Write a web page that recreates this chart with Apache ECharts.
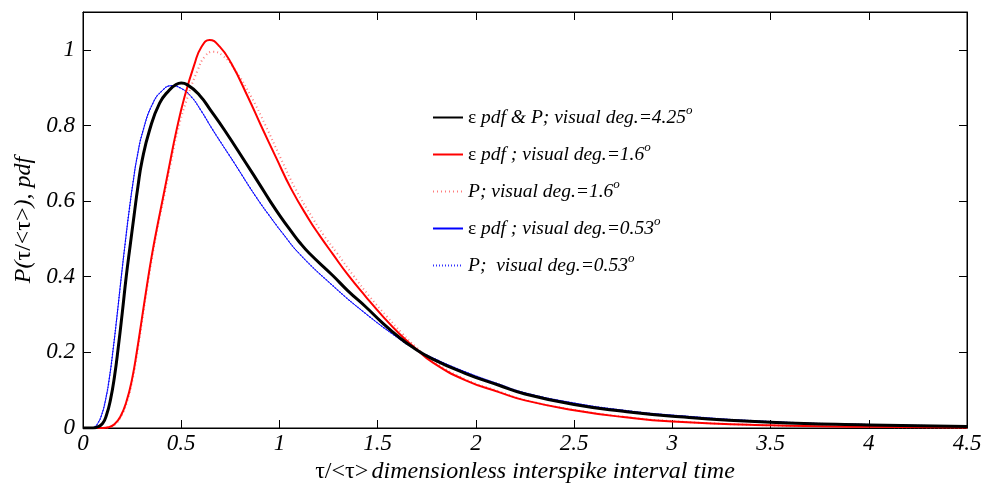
<!DOCTYPE html>
<html>
<head>
<meta charset="utf-8">
<script src="https://cdn.jsdelivr.net/npm/echarts@6/dist/echarts.min.js"></script>
<style>
html,body{margin:0;padding:0;background:#fff;}
#chart{width:997px;height:483px;}
</style>
</head>
<body>
<div id="chart"></div>
<script>
// ---- data ----
const blackX = [0, 0.05, 0.075, 0.1, 0.12, 0.14, 0.16, 0.18, 0.2, 0.22, 0.24, 0.26, 0.28, 0.3, 0.339, 0.39, 0.44, 0.47, 0.5, 0.53, 0.593, 0.65, 0.72, 0.83, 0.898, 0.95, 1.008, 1.06, 1.101, 1.152, 1.27, 1.35, 1.44, 1.52, 1.609, 1.677, 1.778, 1.948, 2.117, 2.25, 2.5, 2.75, 3.0, 3.5, 4.0, 4.5];
const blackY = [0, 0, 0.003, 0.012, 0.035, 0.075, 0.135, 0.215, 0.305, 0.4, 0.482, 0.562, 0.64, 0.705, 0.788, 0.859, 0.894, 0.907, 0.912, 0.908, 0.88, 0.84, 0.788, 0.7, 0.645, 0.602, 0.557, 0.52, 0.492, 0.462, 0.404, 0.362, 0.32, 0.28, 0.24, 0.214, 0.183, 0.144, 0.113, 0.09, 0.062, 0.044, 0.031, 0.015, 0.008, 0.004];

const redX = [0, 0.1, 0.13, 0.16, 0.19, 0.22, 0.25, 0.275, 0.3, 0.325, 0.35, 0.375, 0.407, 0.44, 0.475, 0.517, 0.568, 0.602, 0.644, 0.695, 0.754, 0.839, 0.906, 0.983, 1.059, 1.152, 1.203, 1.27, 1.35, 1.44, 1.525, 1.609, 1.685, 1.778, 1.948, 2.117, 2.25, 2.5, 2.75, 3.0, 3.5, 4.0, 4.5];
const redY = [0, 0, 0.002, 0.01, 0.03, 0.068, 0.13, 0.205, 0.29, 0.375, 0.455, 0.525, 0.608, 0.695, 0.785, 0.876, 0.963, 1.007, 1.026, 1.009, 0.965, 0.876, 0.8, 0.715, 0.633, 0.55, 0.51, 0.461, 0.404, 0.347, 0.296, 0.25, 0.214, 0.174, 0.126, 0.095, 0.073, 0.047, 0.029, 0.017, 0.007, 0.003, 0.001];

const redPX = [0, 0.1, 0.133, 0.163, 0.193, 0.223, 0.253, 0.278, 0.303, 0.328, 0.353, 0.378, 0.411, 0.445, 0.482, 0.528, 0.585, 0.62, 0.661, 0.71, 0.77, 0.856, 0.929, 1.005, 1.081, 1.175, 1.225, 1.295, 1.375, 1.46, 1.545, 1.625, 1.695, 1.785, 1.95, 2.117, 2.25, 2.5, 2.75, 3.0, 3.5, 4.0, 4.5];
const redPY = [0, 0, 0.002, 0.01, 0.03, 0.068, 0.13, 0.205, 0.29, 0.375, 0.455, 0.525, 0.608, 0.695, 0.785, 0.868, 0.948, 0.982, 0.995, 0.985, 0.95, 0.876, 0.8, 0.715, 0.633, 0.55, 0.51, 0.461, 0.404, 0.347, 0.296, 0.25, 0.214, 0.176, 0.128, 0.097, 0.074, 0.048, 0.03, 0.018, 0.007, 0.003, 0.001];

const blueX = [0, 0.04, 0.06, 0.075, 0.095, 0.115, 0.135, 0.155, 0.175, 0.195, 0.215, 0.235, 0.255, 0.275, 0.305, 0.356, 0.407, 0.449, 0.5, 0.551, 0.6, 0.661, 0.771, 0.881, 0.965, 1.016, 1.101, 1.27, 1.44, 1.609, 1.677, 1.778, 1.948, 2.117, 2.25, 2.5, 2.75, 3.0, 3.5, 4.0, 4.5];
const blueY = [0, 0, 0.003, 0.012, 0.035, 0.075, 0.135, 0.215, 0.305, 0.4, 0.49, 0.575, 0.65, 0.715, 0.785, 0.859, 0.894, 0.905, 0.898, 0.876, 0.84, 0.788, 0.7, 0.611, 0.55, 0.515, 0.461, 0.377, 0.302, 0.236, 0.213, 0.186, 0.148, 0.116, 0.093, 0.066, 0.047, 0.034, 0.017, 0.009, 0.005];

const xTicks = [0, 0.5, 1, 1.5, 2, 2.5, 3, 3.5, 4, 4.5];
const yTicks = [0, 0.2, 0.4, 0.6, 0.8, 1];

const seriesNames = ['blackPdfP', 'redPdf', 'redP', 'bluePdf', 'blueP'];
const legendLabels = [
  '{g|ε} {i|pdf & P; visual deg.=4.25}{s|o}',
  '{g|ε} {i|pdf ; visual deg.=1.6}{s|o}',
  '{i|P; visual deg.=1.6}{s|o}',
  '{g|ε} {i|pdf ; visual deg.=0.53}{s|o}',
  '{i|P;  visual deg.=0.53}{s|o}'
];
const xName = '{g|τ/<τ>} {i|dimensionless interspike interval time}';
const yName = '{i|P(}{g|τ/<τ>}{i|), pdf}';

// ---- chart ----
const pairs = (xs, ys) => xs.map((x, i) => [x, ys[i]]);
const FONT = '"Liberation Serif", "DejaVu Serif", serif';
const richBase = {
  g: { fontFamily: FONT, fontStyle: 'normal', fontSize: 19.5, color: '#000' },
  i: { fontFamily: FONT, fontStyle: 'italic', fontSize: 19.5, color: '#000' },
  s: { fontFamily: FONT, fontStyle: 'italic', fontSize: 13, color: '#000', padding: [0, 0, 14, 0] }
};
const richAxis = {
  g: { fontFamily: FONT, fontStyle: 'normal', fontSize: 24, color: '#000' },
  i: { fontFamily: FONT, fontStyle: 'italic', fontSize: 24, color: '#000' }
};

const chart = echarts.init(document.getElementById('chart'), null, { renderer: 'canvas' });
const common = { type: 'line', showSymbol: false, symbol: 'none', smooth: 0.5, animation: false };
const tickLabelStyle = { fontFamily: FONT, fontStyle: 'italic', fontSize: 23, color: '#000' };

chart.setOption({
  backgroundColor: '#fff',
  animation: false,
  grid: { left: 83, right: 30, top: 12, bottom: 55, show: true, borderColor: '#000', borderWidth: 1, containLabel: false, outerBoundsMode: 'none' },
  legend: {
    orient: 'vertical',
    left: 427,
    top: 99,
    itemWidth: 30,
    itemHeight: 14,
    itemGap: 12,
    data: seriesNames,
    itemStyle: { opacity: 0 },
    formatter: name => legendLabels[seriesNames.indexOf(name)],
    textStyle: { fontFamily: FONT, fontSize: 19.5, lineHeight: 23, rich: richBase },
    selectedMode: false
  },
  xAxis: [{
    type: 'value', min: 0, max: 4.5, interval: 0.5,
    name: xName, nameLocation: 'middle', nameGap: 27,
    nameTextStyle: { rich: richAxis },
    axisLine: { show: true, onZero: false, lineStyle: { color: '#000', width: 1 } },
    axisTick: { show: true, inside: true, length: 8, lineStyle: { color: '#000' } },
    axisLabel: { margin: 4, ...tickLabelStyle, formatter: v => xTicks.includes(+v.toFixed(2)) ? String(+v.toFixed(2)) : '' },
    splitLine: { show: false }
  }, {
    type: 'value', min: 0, max: 4.5, interval: 0.5, position: 'top',
    axisLine: { show: true, onZero: false, lineStyle: { color: '#000' } },
    axisTick: { show: true, inside: true, length: 8, lineStyle: { color: '#000' } },
    axisLabel: { show: false }, splitLine: { show: false }
  }],
  yAxis: [{
    type: 'value', min: 0, max: 1.1, interval: 0.2,
    name: yName, nameLocation: 'middle', nameGap: 43, nameRotate: 90,
    nameTextStyle: { rich: richAxis },
    axisLine: { show: true, onZero: false, lineStyle: { color: '#000', width: 1 } },
    axisTick: { show: true, inside: true, length: 8, lineStyle: { color: '#000' } },
    axisLabel: { margin: 8, ...tickLabelStyle, formatter: v => yTicks.includes(+v.toFixed(2)) ? String(+v.toFixed(2)) : '' },
    splitLine: { show: false }
  }, {
    type: 'value', min: 0, max: 1.1, interval: 0.2, position: 'right',
    axisLine: { show: true, onZero: false, lineStyle: { color: '#000' } },
    axisTick: { show: true, inside: true, length: 8, lineStyle: { color: '#000' } },
    axisLabel: { show: false }, splitLine: { show: false }
  }],
  series: [
    { ...common, name: seriesNames[4], data: pairs(blueX, blueY), z: 3,
      lineStyle: { color: '#3333ff', width: 1.5, type: [1, 2] }, itemStyle: { color: '#3333ff' } },
    { ...common, name: seriesNames[3], data: pairs(blueX, blueY), z: 4,
      lineStyle: { color: '#0000ff', width: 1 }, itemStyle: { color: '#0000ff' } },
    { ...common, name: seriesNames[2], data: pairs(redPX, redPY), z: 5,
      lineStyle: { color: 'rgba(255,80,80,0.75)', width: 2, type: [1, 3] }, itemStyle: { color: 'rgba(255,80,80,0.75)' } },
    { ...common, name: seriesNames[1], data: pairs(redX, redY), z: 6,
      lineStyle: { color: '#ff0000', width: 2 }, itemStyle: { color: '#ff0000' } },
    { ...common, name: seriesNames[0], data: pairs(blackX, blackY), z: 7,
      lineStyle: { color: '#000000', width: 3 }, itemStyle: { color: '#000000' } }
  ]
});
</script>
</body>
</html>
